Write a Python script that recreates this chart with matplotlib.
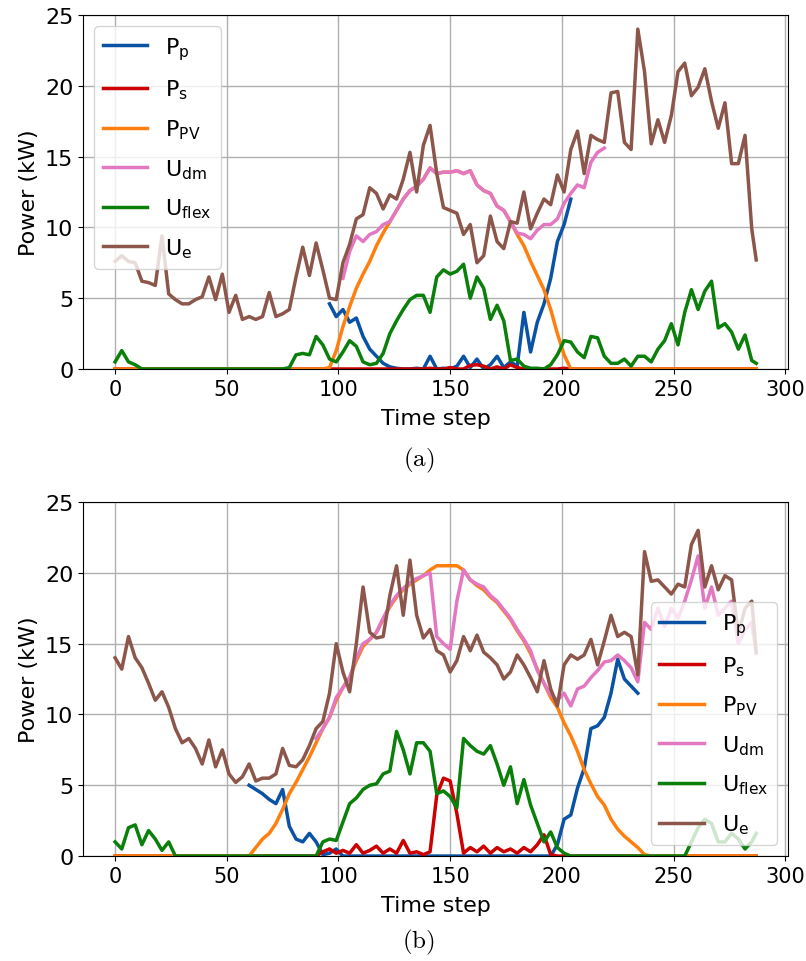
#!/usr/bin/env python3
"""Power profiles of the two scheduling cases, (a) and (b)."""
import matplotlib
matplotlib.use("Agg")
import matplotlib.pyplot as plt
import numpy as np

nan = np.nan

# time steps read every 3 steps, plus the last step
time_step = list(range(0, 288, 3)) + [287]

labels = ["$P_p$", "$P_s$", "$P_{PV}$", "$U_{dm}$", "$U_{flex}$", "$U_e$"]
colors = ["#0a52a3", "#cc0000", "#ff7f0e", "#e377c2", "#0a800a", "#8c564b"]

# ---------------- panel (a) ----------------
pp_a = [nan] * 10 + [nan] * 10 + [nan] * 10 + [
    nan, nan, 4.6, 3.7, 4.2, 3.3, 3.6, 2.3, 1.4, 0.9,
    0.4, 0.15, 0.05, 0, 0, 0.05, 0, 0.9, 0, 0.05,
    0, 0.2, 0.9, 0.1, 0.7, 0, 0.3, 0.9, 0.1, 0.5,
    0.2, 4.0, 1.2, 3.3, 4.6, 6.4, 9.0, 10.2, 12.0, nan,
    nan, nan, nan, nan, nan, nan, nan, nan, nan, nan,
    nan, nan, nan, nan, nan, nan, nan, nan, nan, nan,
    nan, nan, nan, nan, nan, nan, nan]
ps_a = [
    0, 0, 0, 0, 0, 0, 0, 0, 0, 0,
    0, 0, 0, 0, 0, 0, 0, 0, 0, 0,
    0, 0, 0, 0, 0, 0, 0, 0, 0, 0,
    0, 0, 0, 0, 0, 0, 0, 0, 0, 0,
    0, 0, 0, 0, 0, 0, 0, 0.05, 0, 0,
    0.1, 0, 0, 0.25, 0.3, 0.2, 0, 0.15, 0, 0.3,
    0.1, 0, 0, 0, 0, 0, 0, 0.05, 0, 0,
    0, 0, 0, 0, 0, 0, 0, 0, 0, 0,
    0, 0, 0, 0, 0, 0, 0, 0, 0, 0,
    0, 0, 0, 0, 0, 0, 0]
ppv_a = [
    0, 0, 0, 0, 0, 0, 0, 0, 0, 0,
    0, 0, 0, 0, 0, 0, 0, 0, 0, 0,
    0, 0, 0, 0, 0, 0, 0, 0, 0, 0,
    0, 0, 0.1, 1.3, 3.0, 4.4, 5.7, 6.7, 7.6, 8.7,
    9.6, 10.4, 11.2, 12.0, 12.6, 12.9, 13.4, 14.2, 13.8, 13.9,
    13.9, 14.0, 13.8, 14.0, 13.0, 12.6, 12.4, 11.5, 11.2, 10.4,
    9.5, 8.7, 7.6, 6.6, 5.6, 4.2, 2.5, 1.0, 0, 0,
    0, 0, 0, 0, 0, 0, 0, 0, 0, 0,
    0, 0, 0, 0, 0, 0, 0, 0, 0, 0,
    0, 0, 0, 0, 0, 0, 0]
udm_a = [nan] * 10 + [nan] * 10 + [nan] * 10 + [
    nan, nan, nan, nan, 6.4, 8.3, 9.4, 9.0, 9.5, 9.7,
    10.2, 10.4, 11.2, 12.0, 12.6, 12.9, 13.4, 14.2, 13.8, 13.9,
    13.9, 14.0, 13.8, 14.0, 13.0, 12.6, 12.4, 11.5, 11.2, 10.4,
    9.6, 9.5, 9.2, 9.8, 10.2, 10.2, 10.6, 11.7, 12.4, 13.0,
    12.8, 14.6, 15.3, 15.6, nan, nan, nan, nan, nan, nan,
    nan, nan, nan, nan, nan, nan, nan, nan, nan, nan,
    nan, nan, nan, nan, nan, nan, nan]
uflex_a = [
    0.5, 1.3, 0.5, 0.3, 0, 0, 0, 0, 0, 0,
    0, 0, 0, 0, 0, 0, 0, 0, 0, 0,
    0, 0, 0, 0, 0, 0, 0.1, 1.0, 1.1, 1.0,
    2.3, 1.7, 0.7, 0.5, 1.2, 2.0, 1.6, 0.5, 0.3, 0.4,
    1.1, 2.5, 3.4, 4.2, 4.9, 5.2, 5.2, 4.0, 6.5, 7.0,
    6.7, 6.9, 7.4, 5.0, 6.5, 5.7, 3.5, 4.5, 3.4, 0.6,
    0.7, 0.2, 0.05, 0.05, 0, 0.3, 1.0, 2.0, 1.9, 1.2,
    0.8, 2.3, 2.2, 0.9, 0.4, 0.4, 0.7, 0.2, 0.9, 0.9,
    0.5, 1.4, 2.0, 3.2, 1.7, 4.0, 5.6, 4.2, 5.5, 6.2,
    2.9, 3.2, 2.6, 1.4, 2.4, 0.6, 0.4]
ue_a = [
    7.6, 8.0, 7.6, 7.5, 6.2, 6.1, 5.9, 9.4, 5.3, 4.9,
    4.6, 4.6, 4.9, 5.1, 6.5, 4.9, 6.7, 4.0, 5.2, 3.5,
    3.7, 3.5, 3.7, 5.4, 3.7, 3.9, 4.2, 6.5, 8.6, 6.6,
    8.9, 7.0, 5.0, 4.9, 7.5, 8.8, 10.6, 10.9, 12.8, 12.4,
    11.3, 12.3, 12.0, 13.4, 15.3, 12.5, 15.8, 17.2, 13.8, 11.4,
    11.2, 11.0, 9.5, 10.2, 7.5, 8.0, 10.8, 9.0, 8.5, 10.4,
    10.3, 12.5, 9.9, 11.0, 12.0, 11.6, 13.7, 12.5, 15.5, 16.8,
    13.8, 16.5, 16.2, 16.0, 19.5, 19.6, 16.0, 15.5, 24.0, 21.0,
    15.9, 17.6, 16.0, 17.9, 21.0, 21.6, 19.3, 19.9, 21.2, 18.9,
    17.0, 18.8, 14.5, 14.5, 16.5, 9.9, 7.7]

# ---------------- panel (b) ----------------
pp_b = [nan] * 10 + [nan] * 10 + [
    5.0, 4.7, 4.4, 4.0, 3.7, 4.7, 2.1, 1.2, 1.0, 1.6,
    1.0, 0.1, 0.2, 0.5, 0, 0, 0, 0, 0, 0,
    0, 0, 0, 0, 0, 0, 0, 0, 0, 0,
    0, 0, 0, 0, 0, 0, 0, 0, 0, 0,
    0, 0, 0, 0, 0, 0, 0.8, 2.6, 2.9, 4.8,
    6.2, 9.0, 9.2, 9.8, 11.5, 13.9, 12.5, 12.0, 11.5, nan,
    nan, nan, nan, nan, nan, nan, nan, nan, nan, nan,
    nan, nan, nan, nan, nan, nan, nan]
ps_b = [
    0, 0, 0, 0, 0, 0, 0, 0, 0, 0,
    0, 0, 0, 0, 0, 0, 0, 0, 0, 0,
    0, 0, 0, 0, 0, 0, 0, 0, 0, 0,
    0, 0.3, 0.5, 0.2, 0.4, 0.2, 0.8, 0.2, 0.4, 0.7,
    0.2, 0.5, 0.2, 1.1, 0.2, 0.3, 0.1, 0.3, 4.3, 5.5,
    5.3, 3.0, 0.2, 0.6, 0.3, 0.7, 0.2, 0.6, 0.3, 0.5,
    0.2, 0.6, 0.3, 0.8, 1.5, 0.1, 0, 0, 0, 0,
    0, 0, 0, 0, 0, 0, 0, 0, 0, 0,
    0, 0, 0, 0, 0, 0, 0, 0, 0, 0,
    0, 0, 0, 0, 0, 0, 0]
ppv_b = [
    0, 0, 0, 0, 0, 0, 0, 0, 0, 0,
    0, 0, 0, 0, 0, 0, 0, 0, 0, 0,
    0, 0.6, 1.2, 1.6, 2.3, 3.3, 4.4, 5.2, 6.1, 7.0,
    8.0, 9.0, 9.8, 11.0, 11.9, 12.6, 13.8, 14.8, 15.3, 15.8,
    16.7, 17.6, 18.3, 18.8, 19.2, 19.5, 19.8, 20.2, 20.5, 20.5,
    20.5, 20.5, 20.2, 19.5, 19.1, 18.8, 18.3, 17.9, 17.3, 16.7,
    15.9, 15.2, 14.3, 13.2, 12.2, 11.2, 10.5, 9.4, 8.5, 7.4,
    6.1, 5.1, 4.2, 3.6, 2.6, 1.9, 1.4, 1.0, 0.6, 0.1,
    0, 0, 0, 0, 0, 0, 0, 0, 0, 0,
    0, 0, 0, 0, 0, 0, 0]
udm_b = [nan] * 10 + [nan] * 10 + [nan] * 10 + [
    8.3, 9.0, 9.8, 11.2, 11.9, 12.6, 14.0, 15.0, 15.3, 15.8,
    16.8, 17.7, 18.4, 18.9, 19.3, 19.6, 19.8, 20.0, 15.5, 15.0,
    14.6, 18.0, 20.2, 19.5, 19.2, 19.0, 18.4, 18.0, 17.4, 16.8,
    16.0, 15.3, 14.5, 13.1, 12.2, 11.4, 11.0, 11.5, 10.6, 11.8,
    12.0, 12.6, 13.1, 13.7, 13.8, 14.2, 13.8, 13.3, 12.3, 16.5,
    16.0, 17.5, 16.2, 17.5, 16.8, 18.0, 19.5, 21.2, 17.5, 19.0,
    17.0, 17.5, 18.0, 15.0, 16.0, 16.5, 14.3]
uflex_b = [
    1.0, 0.5, 2.0, 2.2, 0.8, 1.8, 1.2, 0.4, 1.0, 0,
    0, 0, 0, 0, 0, 0, 0, 0, 0, 0,
    0, 0, 0, 0, 0, 0, 0, 0, 0, 0,
    0, 1.0, 1.2, 1.1, 2.4, 3.7, 4.1, 4.7, 5.0, 5.1,
    5.8, 6.0, 8.8, 7.5, 5.8, 8.0, 8.0, 7.4, 4.4, 4.6,
    4.2, 3.4, 8.3, 7.8, 7.4, 7.2, 7.8, 6.5, 5.0, 6.3,
    3.7, 5.4, 3.6, 2.3, 1.0, 1.7, 0.6, 0.2, 0, 0,
    0, 0, 0, 0, 0, 0, 0, 0, 0, 0,
    0, 0, 0, 0, 0, 0, 1.0, 2.0, 2.6, 2.3,
    1.0, 1.0, 1.6, 1.2, 0.5, 1.0, 1.6]
ue_b = [
    14.0, 13.2, 15.5, 14.0, 13.3, 12.2, 11.0, 11.6, 10.5, 9.0,
    8.0, 8.3, 7.6, 6.5, 8.2, 6.3, 7.5, 5.8, 5.2, 5.6,
    6.5, 5.3, 5.5, 5.5, 5.8, 7.6, 6.4, 6.3, 6.8, 7.8,
    9.0, 9.5, 11.5, 15.0, 13.0, 11.6, 15.0, 19.0, 15.8, 15.4,
    15.5, 18.4, 20.5, 17.0, 20.9, 17.0, 15.4, 16.0, 14.5, 14.2,
    13.0, 13.8, 15.5, 14.5, 15.6, 14.4, 14.0, 13.5, 12.5, 13.0,
    14.2, 13.5, 12.6, 11.6, 13.8, 11.8, 10.6, 13.5, 14.2, 13.9,
    14.2, 15.3, 13.5, 15.2, 17.0, 15.5, 15.8, 15.5, 12.8, 21.5,
    19.4, 19.5, 19.0, 18.5, 19.2, 19.0, 22.0, 23.0, 19.0, 20.5,
    18.8, 19.8, 19.5, 15.7, 17.5, 18.0, 14.4]

panels = [
    ("(a)", [pp_a, ps_a, ppv_a, udm_a, uflex_a, ue_a], "upper left"),
    ("(b)", [pp_b, ps_b, ppv_b, udm_b, uflex_b, ue_b], "lower right"),
]


def main() -> None:
    plt.rcParams["font.size"] = 16
    plt.rcParams["mathtext.default"] = "regular"

    fig = plt.figure(figsize=(8.06, 9.62), dpi=100)
    rects = [[0.103, 0.6154, 0.875, 0.368], [0.103, 0.1091, 0.875, 0.368]]
    caption_y = [0.521, 0.0198]

    for (tag, series, loc), rect, cy in zip(panels, rects, caption_y):
        ax = fig.add_axes(rect)
        for values, label, color in zip(series, labels, colors):
            ax.plot(time_step, values, color=color, linewidth=2.5, label=label)
        ax.set_ylim(0, 25)
        ax.set_xticks(range(0, 301, 50))
        ax.set_yticks(range(0, 26, 5))
        ax.tick_params(axis="x", labelsize=15)
        ax.grid(True, color="#b0b0b0", linewidth=1.0)
        ax.set_xlabel("Time step", labelpad=7)
        ax.set_ylabel("Power (kW)")
        ax.legend(loc=loc, fontsize=16, labelspacing=0.72)
        fig.text(0.519, cy, r"$\mathrm{" + tag + "}$", ha="center", va="center",
                 fontsize=18, math_fontfamily="cm")

    fig.savefig("out.png", dpi=100)


if __name__ == "__main__":
    main()
